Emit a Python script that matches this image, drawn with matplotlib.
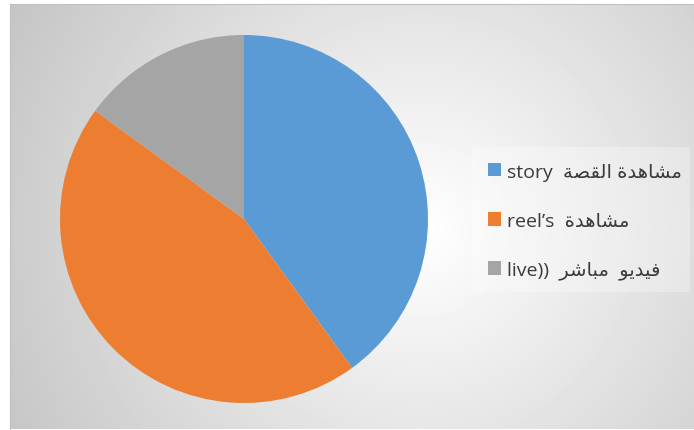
import numpy as np
import matplotlib.pyplot as plt
from matplotlib.patches import Rectangle

# Arabic words in presentation forms, ordered left-to-right for display
MUSHAHADA = "\ufe93\ufeaa\ufeeb\ufe8e\ufeb8\ufee3"   # مشاهدة
QISSA = "\ufe94\ufebc\ufed8\ufedf\ufe8d"             # القصة
FIDYO = "\ufeee\ufef3\ufeaa\ufef4\ufed3"             # فيديو
MUBASHIR = "\ufeae\ufeb7\ufe8e\ufe92\ufee3"          # مباشر

labels = ["story  " + QISSA + " " + MUSHAHADA,
          "reel\u2019s  " + MUSHAHADA,
          "live))  " + MUBASHIR + "  " + FIDYO]
values = [40, 45, 15]
colors = ["#5b9bd5", "#ed7d31", "#a5a5a5"]

plt.rcParams['font.family'] = ['Open Sans', 'DejaVu Sans']

W, H = 694, 431
fig = plt.figure(figsize=(W / 100, H / 100), dpi=100)

# chart area with radial grey gradient
x0, y0, x1, y1 = 10, 5, 694, 430
bg = fig.add_axes([x0 / W, 1 - y1 / H, (x1 - x0) / W, (y1 - y0) / H])
xx, yy = np.meshgrid(np.arange(x0, x1), np.arange(y0, y1))
dist = np.hypot(xx - 420, yy - 230)
shade = np.clip(255 - 0.125 * dist, 196, 255) / 255
bg.imshow(shade, cmap='gray', vmin=0, vmax=1, extent=[0, 1, 0, 1],
          aspect='auto', interpolation='bilinear')
bg.set_xticks([])
bg.set_yticks([])
for s in bg.spines.values():
    s.set_color('#c0c0c0')
    s.set_linewidth(0.8)
bg.spines['right'].set_visible(False)
bg.spines['bottom'].set_visible(False)

# pie
cx, cy, r = 244, 220, 184
ax = fig.add_axes([(cx - r) / W, 1 - (cy + r) / H, 2 * r / W, 2 * r / H])
wedges, _ = ax.pie(values, colors=colors, startangle=90, counterclock=False,
                   radius=1, wedgeprops=dict(linewidth=0))
ax.set_xlim(-1, 1)
ax.set_ylim(-1, 1)
ax.set_aspect('equal')
ax.axis('off')

# legend box
fig.patches.append(Rectangle((472 / W, 1 - 293 / H), (690 - 472) / W, (293 - 148) / H,
                             transform=fig.transFigure, facecolor='white',
                             alpha=0.3, edgecolor='none'))
fig.legend(wedges, labels, loc='center left', bbox_to_anchor=(488 / W, 1 - 222 / H),
           frameon=False, fontsize=14, handlelength=0.68, handleheight=0.68,
           handletextpad=0.3, labelspacing=1.6, borderpad=0, borderaxespad=0,
           labelcolor='#3a3a3a')

fig.savefig('out.png', dpi=100)
